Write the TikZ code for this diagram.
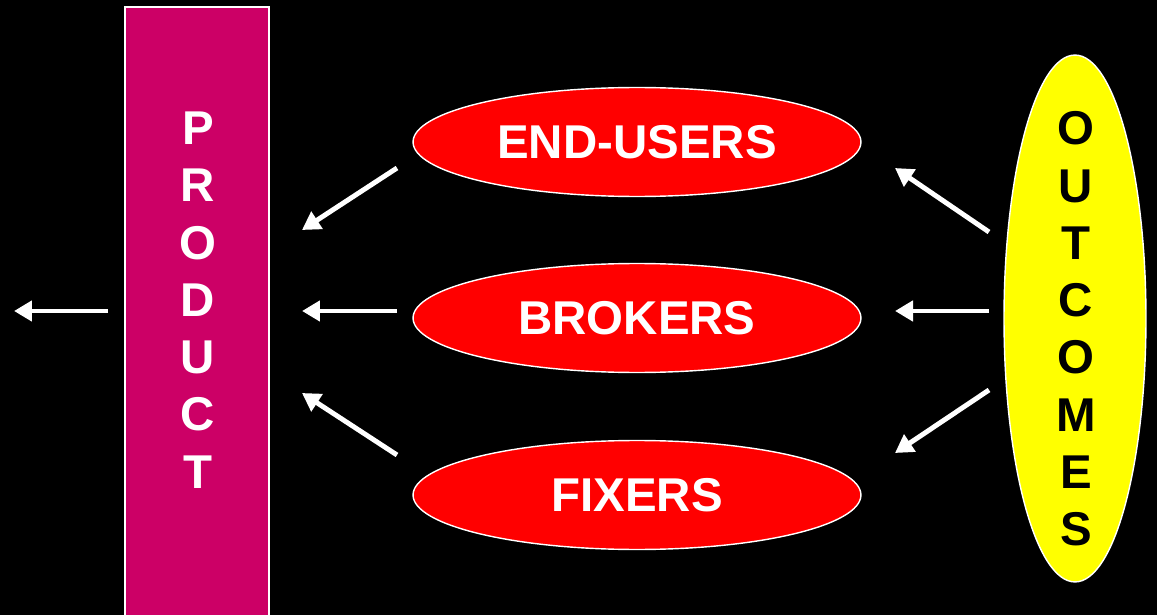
\documentclass[tikz,border=0pt]{standalone}
\usepackage{fontspec}
\setmainfont{Liberation Sans}
\usetikzlibrary{shapes.geometric, arrows.meta, positioning}
\definecolor{prodpink}{HTML}{CC0066}
\definecolor{outyellow}{HTML}{FFFF00}

\begin{document}
\begin{tikzpicture}[
  x=0.02cm, y=-0.02cm,
  big/.style={font=\fontsize{27}{32.6}\selectfont\bfseries},
  group/.style={ellipse, draw=white, line width=0.8pt, fill=red,
                minimum width=8.96cm, minimum height=2.18cm,
                inner sep=0pt, text=white, big},
  prod/.style={draw=white, line width=0.8pt, fill=prodpink,
               minimum width=2.88cm, minimum height=12.66cm, inner sep=0pt},
  outc/.style={ellipse, draw=white, line width=0.8pt, fill=outyellow,
               minimum width=2.84cm, minimum height=10.54cm, inner sep=0pt},
  column/.style={big, align=center, inner sep=0pt},
  arr/.style={-{Triangle[length=0.36cm, width=0.4cm]}, draw=white, line width=2.8pt}
]
% black page
\fill[black] (0,0) rectangle (1157,615);
\useasboundingbox (0,0) rectangle (1157,615);

% left bar and right ellipse
\node[prod] (product) at (197,323.5) {};
\node[column, text=white] (prodtext) at (198,300)
  {P\\R\\O\\D\\U\\C\\T};
\node[outc] (outcomes) at (1075,318.5) {};
\node[column, text=black] (outtext) at (1076,329)
  {O\\U\\T\\C\\O\\M\\E\\S};

% the three groups
\node[group] (endusers) at (637,142) {END-USERS};
\node[group] (brokers)  at (637,318) {BROKERS};
\node[group] (fixers)   at (637,495) {FIXERS};

% arrow ends
\coordinate (p-out)  at (108,311);
\coordinate (p-end)  at (14,311);
\coordinate (eu-l)   at (397,168);
\coordinate (eu-p)   at (302,230);
\coordinate (br-l)   at (397,311);
\coordinate (br-p)   at (302,311);
\coordinate (fx-l)   at (397,455);
\coordinate (fx-p)   at (302,393);
\coordinate (o-eu)   at (989,232);
\coordinate (eu-r)   at (895,168);
\coordinate (o-br)   at (989,311);
\coordinate (br-r)   at (895,311);
\coordinate (o-fx)   at (989,390);
\coordinate (fx-r)   at (895,453);

\draw[arr] (p-out) -- (p-end);
\draw[arr] (eu-l) -- (eu-p);
\draw[arr] (br-l) -- (br-p);
\draw[arr] (fx-l) -- (fx-p);
\draw[arr] (o-eu) -- (eu-r);
\draw[arr] (o-br) -- (br-r);
\draw[arr] (o-fx) -- (fx-r);
\end{tikzpicture}
\end{document}
